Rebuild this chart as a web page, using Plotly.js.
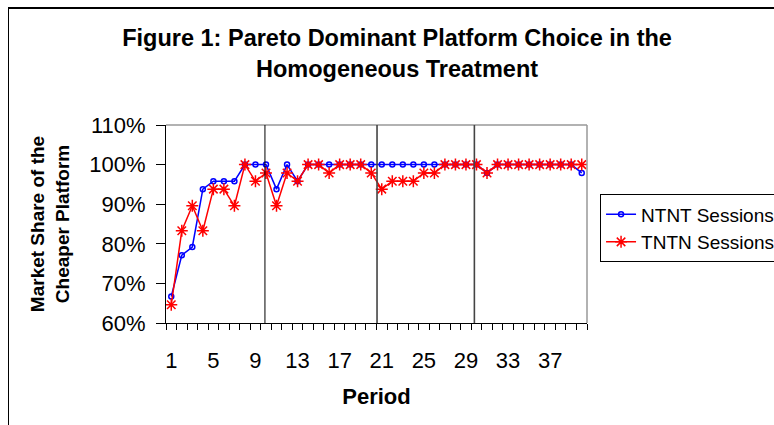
<!DOCTYPE html>
<html>
<head>
<meta charset="utf-8">
<script src="https://cdn.plot.ly/plotly-3.0.1.min.js"></script>
<style>
  html, body { margin: 0; padding: 0; background: #fff; overflow: hidden; }
  #wrap { position: relative; width: 774px; height: 425px; }
  #chart { width: 774px; height: 425px; }
  /* outer chart frame, runs off the right and bottom edges like the source */
  #frameTop {
    position: absolute; left: 8px; top: 7px; width: 766px; height: 2px; z-index: 10;
    background: #000; pointer-events: none;
  }
  #frameLeft {
    position: absolute; left: 8px; top: 7px; width: 1px; height: 418px; z-index: 10;
    background: #000; pointer-events: none;
  }
</style>
</head>
<body>
<div id="wrap">
  <div id="chart"></div>
  <div id="frameTop"></div>
  <div id="frameLeft"></div>
</div>
<script>
// periods 1..40
const periods = Array.from({ length: 40 }, (_, i) => i + 1)

// market share of the cheaper platform, in percent
const ntnt = [66.7, 77.1, 79.2, 93.8, 95.8, 95.8, 95.8, 100, 100, 100,
  93.8, 100, 95.8, 100, 100, 100, 100, 100, 100, 100,
  100, 100, 100, 100, 100, 100, 100, 100, 100, 100,
  97.9, 100, 100, 100, 100, 100, 100, 100, 100, 97.9]

const tntn = [64.6, 83.3, 89.6, 83.3, 93.8, 93.8, 89.6, 100, 95.8, 97.9,
  89.6, 97.9, 95.8, 100, 100, 97.9, 100, 100, 100, 97.9,
  93.8, 95.8, 95.8, 95.8, 97.9, 97.9, 100, 100, 100, 100,
  97.9, 100, 100, 100, 100, 100, 100, 100, 100, 100]

// where the session treatment switches
const sessionBreaks = [9.9, 20.55, 29.8]

const font = "Arial, 'Liberation Sans', sans-serif"

const traces = [
  {
    x: periods,
    y: ntnt,
    name: "NTNT Sessions",
    type: "scatter",
    mode: "lines+markers",
    line: { color: "#0000ff", width: 1.5 },
    marker: { symbol: "circle-open", size: 5, color: "#0000ff", line: { width: 1.5 } },
  },
  {
    x: periods,
    y: tntn,
    name: "TNTN Sessions",
    type: "scatter",
    mode: "lines+markers",
    line: { color: "#ff0000", width: 1.5 },
    marker: { symbol: "asterisk-open", size: 10, color: "#ff0000", line: { width: 1.5, color: "#ff0000" } },
  },
]

const breakLines = sessionBreaks.map((b, i) => ({
  type: "line",
  xref: "x",
  yref: "paper",
  x0: b,
  x1: b,
  y0: 0,
  y1: 1,
  line: { color: i === 0 ? "#000" : "#444", width: i === 0 ? 1 : 1.6 },
}))

// gray plot-area border (top, right)
const plotBorder = [
  { type: "line", xref: "paper", yref: "paper", x0: 0, x1: 1, y0: 1, y1: 1, line: { color: "#999", width: 1.5 } },
  { type: "line", xref: "paper", yref: "paper", x0: 1, x1: 1, y0: 0, y1: 1, line: { color: "#999", width: 1.5 } },
]

const layout = {
  width: 774,
  height: 425,
  margin: { l: 166, r: 187, t: 125, b: 102, autoexpand: false },
  paper_bgcolor: "#fff",
  plot_bgcolor: "#fff",
  font: { family: font, color: "#000" },
  title: {
    text: "<b>Figure 1: Pareto Dominant Platform Choice in the<br>Homogeneous Treatment</b>",
    font: { size: 23.5, family: font, color: "#000" },
    x: 0.513,
    xanchor: "center",
    yref: "container",
    y: 1 - 46 / 425,
    yanchor: "top",
  },
  xaxis: {
    type: "linear",
    range: [0.5, 40.5],
    tick0: 1,
    dtick: 4,
    ticks: "",
    ticklabelstandoff: 18,
    showgrid: false,
    zeroline: false,
    showline: true,
    linecolor: "#000",
    linewidth: 1,
    tickfont: { size: 22 },
    minor: { tick0: 0.5, dtick: 1, ticks: "outside", ticklen: 6, tickcolor: "#000", showgrid: false },
    title: { text: "<b>Period</b>", font: { size: 22 }, standoff: 16 },
  },
  yaxis: {
    range: [60, 110],
    dtick: 10,
    ticksuffix: "%",
    ticks: "outside",
    ticklen: 9,
    tickcolor: "#000",
    ticklabelstandoff: 6,
    showgrid: false,
    zeroline: false,
    showline: true,
    linecolor: "#000",
    linewidth: 1,
    tickfont: { size: 22 },
    title: { text: "<b>Market Share of the<br>Cheaper Platform</b>", font: { size: 19 }, standoff: 14 },
  },
  showlegend: true,
  legend: {
    x: 1.031,
    xanchor: "left",
    y: 0.65,
    yanchor: "top",
    bordercolor: "#000",
    borderwidth: 1,
    bgcolor: "#fff",
    font: { size: 19 },
    tracegroupgap: 0,
  },
  shapes: [...plotBorder, ...breakLines],
}

Plotly.newPlot("chart", traces, layout, { displayModeBar: false, staticPlot: true })
</script>
</body>
</html>
